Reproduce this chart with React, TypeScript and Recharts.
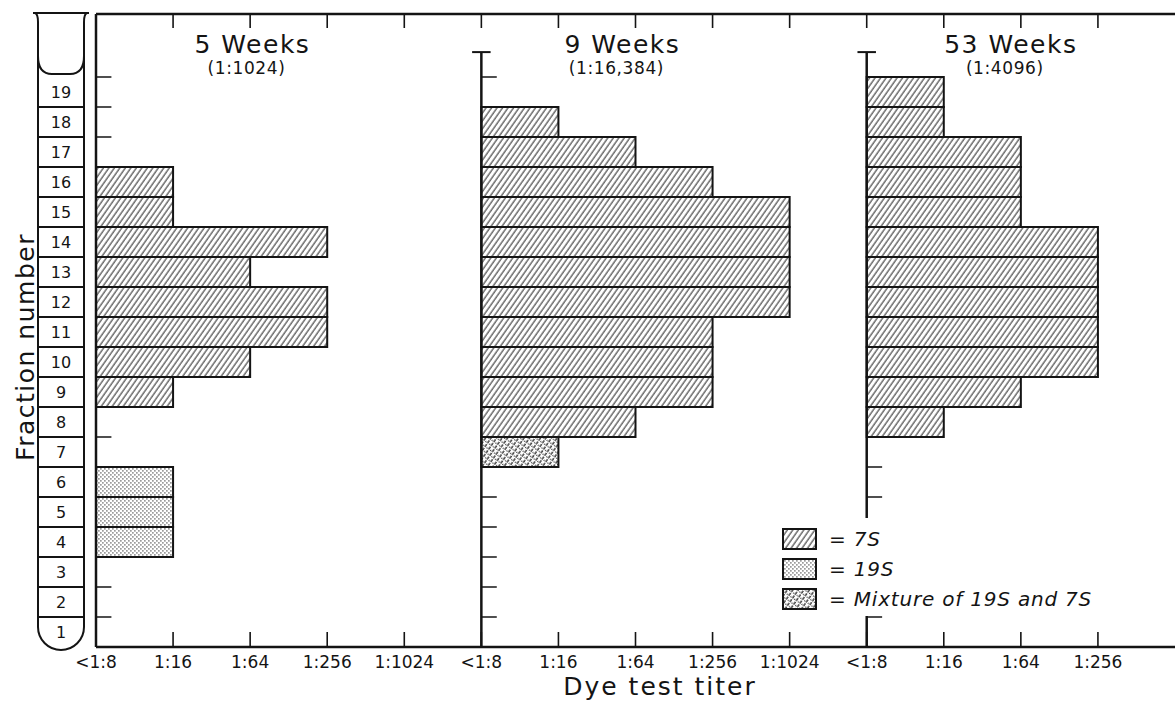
import React from 'react';
import { BarChart, Bar, Cell, XAxis, YAxis, ReferenceLine, ReferenceDot, Legend } from 'recharts';

const INK = '#141414';
const FONT = '"DejaVu Sans", "Liberation Sans", sans-serif';

// fraction numbers, bottom of the tube = 1
const fractions = [1, 2, 3, 4, 5, 6, 7, 8, 9, 10, 11, 12, 13, 14, 15, 16, 17, 18, 19];
const titerTicks = ['<1:8', '1:16', '1:64', '1:256', '1:1024'];

// dye test titer per fraction (index 0 = fraction 1), null = nothing found
const weeks5Titer = [null, null, null, '1:16', '1:16', '1:16', null, null, '1:16', '1:64', '1:256', '1:256', '1:64', '1:256', '1:16', '1:16', null, null, null];
const weeks5Type = ['', '', '', '19S', '19S', '19S', '', '', '7S', '7S', '7S', '7S', '7S', '7S', '7S', '7S', '', '', ''];
const weeks9Titer = [null, null, null, null, null, null, '1:16', '1:64', '1:256', '1:256', '1:256', '1:1024', '1:1024', '1:1024', '1:1024', '1:256', '1:64', '1:16', null];
const weeks9Type = ['', '', '', '', '', '', 'mix', '7S', '7S', '7S', '7S', '7S', '7S', '7S', '7S', '7S', '7S', '7S', ''];
const weeks53Titer = [null, null, null, null, null, null, null, '1:16', '1:64', '1:256', '1:256', '1:256', '1:256', '1:256', '1:64', '1:64', '1:64', '1:16', '1:16'];
const weeks53Type = ['', '', '', '', '', '', '', '7S', '7S', '7S', '7S', '7S', '7S', '7S', '7S', '7S', '7S', '7S', '7S'];

const panelTitles = ['5 Weeks', '9 Weeks', '53 Weeks'];
const panelSerumTiters = ['(1:1024)', '(1:16,384)', '(1:4096)'];
const legendLabels = ['7S', '19S', 'Mixture of 19S and 7S'];

// layout
const PANEL_W = titerTicks.length;
const X_DOMAIN = [0, 3 * PANEL_W - 1];
const Y_DOMAIN = [0.5, 21.6];
const AXIS_TOP = 20.33;
const TITLE_X = [2.03, 6.83, 11.87];

const FILLS: Record<string, string> = {
  '7S': 'url(#hatch7s)',
  '19S': 'url(#dots19s)',
  mix: 'url(#mix)',
};

const panels = [
  { key: 'w5', titer: weeks5Titer, type: weeks5Type },
  { key: 'w9', titer: weeks9Titer, type: weeks9Type },
  { key: 'w53', titer: weeks53Titer, type: weeks53Type },
];

const data = fractions.map((f, i) => ({
  fraction: f,
  w5: weeks5Titer[i],
  w9: weeks9Titer[i],
  w53: weeks53Titer[i],
}));

const boundaries = fractions.map((f) => f + 0.5);
const bottomTicks = [0, 1, 2]
  .flatMap((k) => titerTicks.map((_, j) => k * PANEL_W + j))
  .filter((v) => v < X_DOMAIN[1]);
const topTicks = bottomTicks.filter((v) => v > 0);

const BottomTick = (props: any) => {
  const { x, y, payload } = props;
  return (
    <g>
      <line x1={x} y1={y} x2={x} y2={y - 15} stroke={INK} strokeWidth={1.6} />
      <text x={x} y={y + 21} textAnchor="middle" fontSize={17} fill={INK} fontFamily={FONT}>
        {titerTicks[payload.value % PANEL_W]}
      </text>
    </g>
  );
};

const TopTick = (props: any) => {
  const { x, y } = props;
  return <line x1={x} y1={y} x2={x} y2={y + 14} stroke={INK} strokeWidth={1.6} />;
};

const RightTick = (props: any) => {
  const { x, y } = props;
  return <line x1={x - 10} y1={y} x2={x} y2={y} stroke={INK} strokeWidth={2} />;
};

const TubeTick = (props: any) => {
  const { x, y, payload } = props;
  const f = payload.value;
  const L = x - 58;
  const R = x - 12;
  const h = 15;
  const st = { stroke: INK, strokeWidth: 2, fill: 'none' };
  return (
    <g>
      {f === 1 ? (
        <path d={`M${L},${y - h} L${L},${y - 5} A23,23 0 0 0 ${R},${y - 5} L${R},${y - h}`} {...st} />
      ) : (
        <>
          <line x1={L} y1={y - h} x2={L} y2={y + h} {...st} />
          <line x1={R} y1={y - h} x2={R} y2={y + h} {...st} />
        </>
      )}
      {f < 19 && <line x1={L} y1={y - h} x2={R} y2={y - h} {...st} />}
      {f === 19 && (
        <>
          <path d={`M${L - 5},${y - 79} L${R + 5},${y - 79}`} {...st} />
          <path d={`M${L - 3},${y - 79} Q${L},${y - 78} ${L},${y - 70} L${L},${y - h}`} {...st} />
          <path d={`M${R + 3},${y - 79} Q${R},${y - 78} ${R},${y - 70} L${R},${y - h}`} {...st} />
          <path d={`M${L},${y - 36} Q${L},${y - 18} ${L + 14},${y - 18} L${R - 14},${y - 18} Q${R},${y - 18} ${R},${y - 36}`} {...st} />
        </>
      )}
      <text x={(L + R) / 2} y={y + 6} textAnchor="middle" fontSize={16} fill={INK} fontFamily={FONT}>
        {f}
      </text>
    </g>
  );
};

const FractionLabel = () => (
  <text
    x={25}
    y={347}
    transform="rotate(-90 25 347)"
    textAnchor="middle"
    dominantBaseline="central"
    fontSize={25}
    letterSpacing={1.5}
    fill={INK}
    fontFamily={FONT}
  >
    Fraction number
  </text>
);

const TiterLabel = () => (
  <text x={660} y={695} textAnchor="middle" fontSize={25} letterSpacing={2} fill={INK} fontFamily={FONT}>
    Dye test titer
  </text>
);

const makeTitle = (k: number) => (p: any) => (
  <g>
    <text x={p.cx} y={p.cy + 6} textAnchor="middle" fontSize={25} letterSpacing={1.5} fill={INK} fontFamily={FONT}>
      {panelTitles[k]}
    </text>
    <text x={p.cx - 6} y={p.cy + 27} textAnchor="middle" fontSize={17} letterSpacing={0.6} fill={INK} fontFamily={FONT}>
      {panelSerumTiters[k]}
    </text>
  </g>
);

const legendFills = [FILLS['7S'], FILLS['19S'], FILLS.mix];

const LegendBox = () => (
  <div style={{ paddingTop: 6 }}>
    {legendLabels.map((lab, i) => (
      <div key={lab} style={{ display: 'flex', alignItems: 'center', height: 30 }}>
        <svg width={35} height={22} style={{ marginLeft: 4 }}>
          <rect x={1} y={1} width={33} height={20} fill={legendFills[i]} stroke={INK} strokeWidth={2} />
        </svg>
        <span style={{ marginLeft: 12, fontFamily: FONT, fontStyle: 'italic', fontSize: 20, color: INK, letterSpacing: 0.8 }}>
          = {lab}
        </span>
      </div>
    ))}
  </div>
);

export default function App() {
  return (
    <div style={{ width: 1175, height: 702, background: '#fff' }}>
      <style>{'body{margin:0;overflow:hidden}'}</style>
      <BarChart
        width={1175}
        height={702}
        data={data}
        layout="vertical"
        barCategoryGap={0}
        barGap={0}
        margin={{ top: 14, right: 0, bottom: 25, left: 0 }}
      >
        <defs>
          <pattern id="hatch7s" patternUnits="userSpaceOnUse" width="4.5" height="4.5" patternTransform="rotate(35)">
            <rect width="4.5" height="4.5" fill="#fff" />
            <line x1="1" y1="0" x2="1" y2="4.5" stroke="#222" strokeWidth="1" />
          </pattern>
          <pattern id="dots19s" patternUnits="userSpaceOnUse" width="4" height="4">
            <rect width="4" height="4" fill="#fff" />
            <rect x="0.3" y="0.3" width="1.2" height="1.2" fill="#333" />
            <rect x="2.3" y="2.3" width="1.2" height="1.2" fill="#333" />
          </pattern>
          <pattern id="mix" patternUnits="userSpaceOnUse" width="4.5" height="4.5" patternTransform="rotate(35)">
            <rect width="4.5" height="4.5" fill="#fff" />
            <line x1="1" y1="0" x2="1" y2="4.5" stroke="#222" strokeWidth="1.3" strokeDasharray="2.5 1.2" />
            <rect x="2.8" y="1.5" width="1.2" height="1.2" fill="#333" />
          </pattern>
        </defs>

        <XAxis
          xAxisId="titer"
          type="number"
          domain={X_DOMAIN}
          allowDataOverflow
          ticks={bottomTicks}
          interval={0}
          height={30}
          axisLine={{ stroke: INK, strokeWidth: 2.5 }}
          tickLine={false}
          tickSize={0}
          tickMargin={0}
          tick={BottomTick}
          label={<TiterLabel />}
        />
        <XAxis
          xAxisId="top"
          orientation="top"
          mirror
          type="number"
          domain={X_DOMAIN}
          allowDataOverflow
          ticks={topTicks}
          interval={0}
          axisLine={{ stroke: INK, strokeWidth: 2.5 }}
          tickLine={false}
          tickSize={0}
          tickMargin={0}
          tick={TopTick}
        />

        <YAxis
          yAxisId="tube"
          type="number"
          dataKey="fraction"
          domain={Y_DOMAIN}
          allowDataOverflow
          reversed
          ticks={fractions}
          interval={0}
          width={96}
          axisLine={false}
          tickLine={false}
          tickSize={0}
          tickMargin={0}
          tick={TubeTick}
          label={<FractionLabel />}
        />
        <YAxis
          yAxisId="right"
          orientation="right"
          type="number"
          dataKey="fraction"
          domain={Y_DOMAIN}
          allowDataOverflow
          reversed
          mirror
          width={0}
          ticks={boundaries}
          interval={0}
          axisLine={false}
          tickLine={false}
          tickSize={0}
          tickMargin={0}
          tick={RightTick}
        />
        {panels.map((p, k) => (
          <YAxis
            key={p.key}
            yAxisId={`band${k}`}
            type="number"
            dataKey="fraction"
            domain={Y_DOMAIN}
            allowDataOverflow
            reversed
            width={0}
            hide
          />
        ))}

        {panels.map((p, k) => (
          <Bar
            key={p.key}
            xAxisId="titer"
            yAxisId={`band${k}`}
            dataKey={(row: any) => {
              const t = row[p.key];
              if (!t) return null;
              const start = k * PANEL_W;
              return [start, start + titerTicks.indexOf(t)];
            }}
            stroke={INK}
            strokeWidth={2}
            isAnimationActive={false}
          >
            {data.map((row, i) => (
              <Cell key={row.fraction} fill={FILLS[p.type[i]] ?? 'none'} />
            ))}
          </Bar>
        ))}

        {[0, 1, 2].map((k) => (
          <ReferenceLine
            key={`ax${k}`}
            xAxisId="titer"
            yAxisId="tube"
            segment={[
              { x: k * PANEL_W, y: Y_DOMAIN[0] },
              { x: k * PANEL_W, y: k === 0 ? Y_DOMAIN[1] : AXIS_TOP },
            ]}
            stroke={INK}
            strokeWidth={2.5}
          />
        ))}
        {[1, 2].map((k) => (
          <ReferenceLine
            key={`cap${k}`}
            xAxisId="titer"
            yAxisId="tube"
            segment={[{ x: k * PANEL_W - 0.12, y: AXIS_TOP }, { x: k * PANEL_W + 0.12, y: AXIS_TOP }]}
            stroke={INK}
            strokeWidth={2}
          />
        ))}
        {[0, 1, 2].flatMap((k) =>
          boundaries.map((b) => (
            <ReferenceLine
              key={`t${k}-${b}`}
              xAxisId="titer"
              yAxisId="tube"
              segment={[{ x: k * PANEL_W, y: b }, { x: k * PANEL_W + 0.2, y: b }]}
              stroke={INK}
              strokeWidth={1.5}
            />
          ))
        )}

        {panelTitles.map((t, k) => (
          <ReferenceDot
            key={t}
            xAxisId="titer"
            yAxisId="tube"
            x={TITLE_X[k]}
            y={20.5}
            r={0}
            shape={makeTitle(k)}
          />
        ))}

        <Legend
          layout="vertical"
          align="center"
          verticalAlign="middle"
          content={LegendBox}
          wrapperStyle={{ left: 778, top: 518, width: 360, height: 98, background: '#fff' }}
        />
      </BarChart>
    </div>
  );
}
